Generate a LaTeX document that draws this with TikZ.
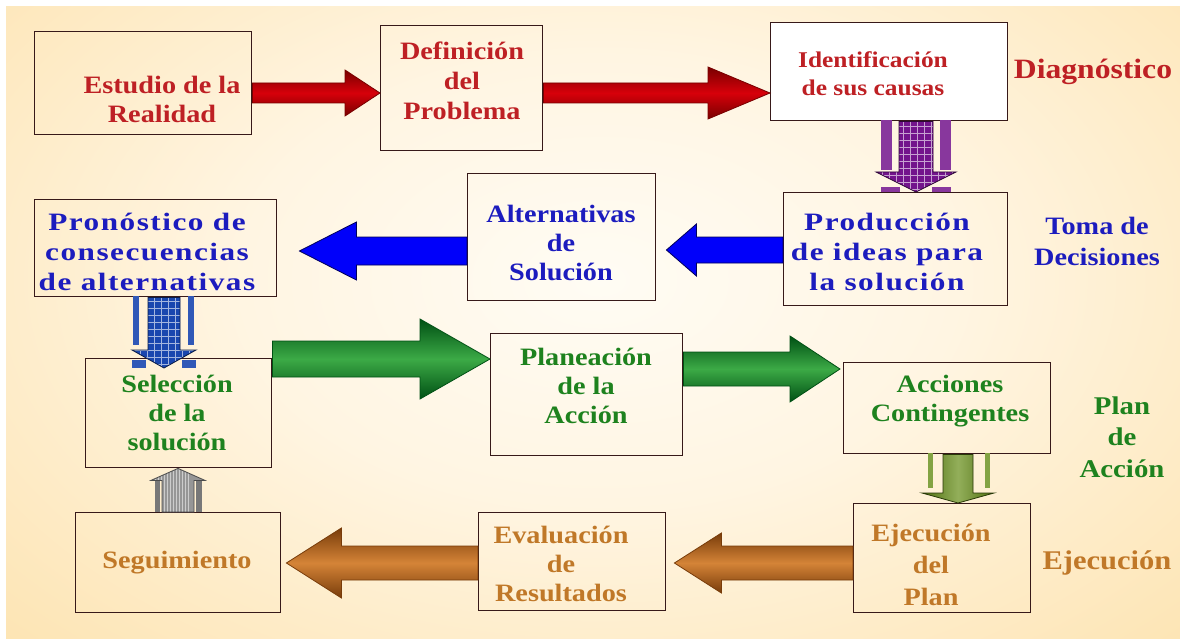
\documentclass[tikz,border=0pt]{standalone}
\usepackage{fontspec}
\setmainfont{Liberation Serif}[FakeStretch=1.13]
\newfontfamily\spacedfont{Liberation Serif}[FakeStretch=1.25,LetterSpace=6]
\usetikzlibrary{calc}
\definecolor{boxline}{RGB}{55,25,25}
\definecolor{tred}{RGB}{190,32,36}
\definecolor{tblue}{RGB}{28,28,190}
\definecolor{tgreen}{RGB}{30,130,30}
\definecolor{torange}{RGB}{192,120,40}
\definecolor{ared}{RGB}{215,0,10}
\definecolor{aredd}{RGB}{120,0,0}
\definecolor{ablue}{RGB}{0,0,250}
\definecolor{ablued}{RGB}{0,0,90}
\definecolor{agreen}{RGB}{10,140,40}
\definecolor{agreend}{RGB}{0,80,20}
\definecolor{agreenl}{RGB}{60,170,70}
\definecolor{aorange}{RGB}{205,110,20}
\definecolor{aoranged}{RGB}{120,60,10}
\definecolor{apurple}{RGB}{115,20,140}
\definecolor{avblue}{RGB}{25,70,175}
\definecolor{aolive}{RGB}{100,140,20}
\definecolor{agray}{RGB}{150,150,150}
\definecolor{bgc}{RGB}{255,252,244}
\definecolor{bgm1}{RGB}{255,245,226}
\definecolor{bgm2}{RGB}{253,228,178}
\definecolor{bge}{RGB}{251,208,120}
\pgfdeclareradialshading{bgshade}{\pgfpoint{0bp}{0bp}}{color(0bp)=(bgc); color(14bp)=(bgm1); color(33bp)=(bgm2); color(50bp)=(bge)}
% horizontal block arrow: style, start, tip, y, shaft half, head half, signed head length
\newcommand\harrow[7]{%
  \path[#1] ($(#2 |- 0,#4)+(0,{-(#5)})$) -- ($(#3 |- 0,#4)+({-(#7)},{-(#5)})$)
    -- ($(#3 |- 0,#4)+({-(#7)},{-(#6)})$) -- (#3 |- 0,#4)
    -- ($(#3 |- 0,#4)+({-(#7)},{#6})$) -- ($(#3 |- 0,#4)+({-(#7)},{#5})$)
    -- ($(#2 |- 0,#4)+(0,{#5})$) -- cycle;}
% vertical block arrow: style, start, tip, x, shaft half, head half, signed head length (down positive)
\newcommand\varrow[7]{%
  \path[#1] ($(#2 -| #4,0)+({-(#5)},0)$) -- ($(#3 -| #4,0)+({-(#5)},{-(#7)})$)
    -- ($(#3 -| #4,0)+({-(#6)},{-(#7)})$) -- (#3 -| #4,0)
    -- ($(#3 -| #4,0)+({#6},{-(#7)})$) -- ($(#3 -| #4,0)+({#5},{-(#7)})$)
    -- ($(#2 -| #4,0)+({#5},0)$) -- cycle;}
\tikzset{
  box/.style={draw=boxline, line width=1.4pt, anchor=north west, inner sep=0pt},
  txt/.style={font=\bfseries\fontsize{25}{29}\selectfont, align=center, inner sep=0pt},
  redarr/.style={draw=aredd, line width=0.8pt, top color=aredd, bottom color=aredd, middle color=ared},
  bluearr/.style={draw=ablued, line width=0.8pt, fill=ablue},
  greenarr/.style={draw=agreend, line width=0.8pt, top color=agreend, bottom color=agreend, middle color=agreenl},
  orangearr/.style={draw=aoranged, line width=0.8pt, top color=aoranged, bottom color=aoranged, middle color=aorange!85!white},
  gridfill/.style={path picture={\draw[white!60!#1, line width=0.5pt, step=7pt] (path picture bounding box.south west) grid (path picture bounding box.north east);}},
  vpurple/.style={draw=apurple!40!black, line width=0.8pt, fill=apurple, gridfill=apurple},
  vblue/.style={draw=avblue!40!black, line width=0.8pt, fill=avblue, gridfill=avblue},
  volive/.style={draw=aolive!40!black, line width=0.8pt, left color=aolive!80!black, right color=aolive!80!black, middle color=aolive!70!white},
  vgray/.style={draw=black!70, line width=0.8pt, fill=agray, path picture={\foreach \k in {0,...,12} {\draw[white!80!black, line width=1pt] ([xshift=\k*3pt+1pt]path picture bounding box.south west) -- ([xshift=\k*3pt+1pt]path picture bounding box.south west |- path picture bounding box.north);}}},
}
\begin{document}
\begin{tikzpicture}[x=1pt, y=-1pt]
\useasboundingbox (0,0) rectangle (1180,639);
\fill[white] (0,0) rectangle (1180,639);
\begin{scope}
  \clip (6,7) rectangle (1180,639);
  \shade[shading=bgshade] (-40,-120) rectangle (1240,680);
\end{scope}

% boxes
\node[box, minimum width=217pt, minimum height=103pt] (A) at (34,31) {};
\node[box, minimum width=162pt, minimum height=125pt] (B) at (380,25) {};
\node[box, fill=white, minimum width=237pt, minimum height=98pt] (C) at (770,22) {};
\node[box, minimum width=224pt, minimum height=113pt] (D) at (783,192) {};
\node[box, minimum width=188pt, minimum height=127pt] (E) at (467,173) {};
\node[box, minimum width=242pt, minimum height=97pt] (F) at (34,199) {};
\node[box, minimum width=186pt, minimum height=109pt] (G) at (85,358) {};
\node[box, minimum width=192pt, minimum height=122pt] (H) at (490,333) {};
\node[box, minimum width=207pt, minimum height=91pt] (I) at (843,362) {};
\node[box, minimum width=177pt, minimum height=109pt] (J) at (853,503) {};
\node[box, minimum width=187pt, minimum height=98pt] (K) at (478,512) {};
\node[box, minimum width=205pt, minimum height=100pt] (L) at (75,512) {};

% tip coordinates
\coordinate (tE) at ($(E.east)+(10,0)$);
\coordinate (tF) at ($(F.east)+(22,0)$);
\coordinate (tG) at ($(G.north)+(0,10)$);
\coordinate (tL) at ($(L.east)+(5,0)$);
\coordinate (tK) at ($(K.east)+(8,0)$);
\coordinate (tI) at ($(I.west)+(-3,0)$);

% vertical arrows (decorative side stripes first)
\fill[apurple!85!white] (881,120) rectangle (892,170);
\fill[apurple!85!white] (940,120) rectangle (951,170);
\fill[apurple!85!white] (881,187) rectangle (900,192);
\fill[apurple!85!white] (932,187) rectangle (951,192);
\varrow{vpurple}{C.south}{D.north}{916}{17}{40}{20}

\fill[avblue!90!white] (133,296) rectangle (139,345);
\fill[avblue!90!white] (188,296) rectangle (194,345);
\fill[avblue!90!white] (132,360) rectangle (146,368);
\fill[avblue!90!white] (182,360) rectangle (196,368);
\varrow{vblue}{F.south}{tG}{164}{16}{32}{18}

\fill[aolive!80!white] (928,453) rectangle (933,488);
\fill[aolive!80!white] (985,453) rectangle (990,488);
\varrow{volive}{I.south}{J.north}{958}{15}{36}{10}

\fill[agray!80!black] (155,481) rectangle (160,512);
\fill[agray!80!black] (196,481) rectangle (202,512);
\varrow{vgray}{L.north}{G.south}{178}{16}{27}{-12}

% horizontal arrows
\harrow{redarr}{A.east}{B.west}{93}{10}{23}{35}
\harrow{redarr}{B.east}{C.west}{93}{10}{26}{62}
\harrow{bluearr}{D.west}{tE}{250}{13}{26}{-30}
\harrow{bluearr}{E.west}{tF}{251}{14}{29}{-57}
\harrow{greenarr}{G.east}{H.west}{359}{18}{40}{70}
\harrow{greenarr}{H.east}{tI}{369}{17}{33}{50}
\harrow{orangearr}{K.west}{tL}{563}{17}{35}{-55}
\harrow{orangearr}{J.west}{tK}{563}{17}{30}{-47}

% texts
\node[txt, text=tred] (tA) at (162,99) {Estudio de la\\Realidad};
\node[txt, text=tred] (tB) at (462,81) {Definición\\[1pt]del\\[1pt]Problema};
\node[txt, text=tred, font=\bfseries\fontsize{22.5}{28}\selectfont] (tC) at (873,74) {Identificación\\de sus causas};
\node[txt, text=tred, font=\bfseries\fontsize{28}{30}\selectfont] (lDiag) at (1093,72) {Diagnóstico};

\node[txt, text=tblue, font=\bfseries\spacedfont\fontsize{25}{30}\selectfont] (tD) at (887,252) {Producción\\de ideas para\\la solución};
\node[txt, text=tblue] (tE2) at (561,243) {Alternativas\\de\\Solución};
\node[txt, text=tblue, font=\bfseries\spacedfont\fontsize{25}{30}\selectfont] (tF2) at (147,252) {Pronóstico de\\consecuencias\\de alternativas};
\node[txt, text=tblue, font=\bfseries\fontsize{25}{31}\selectfont] (lToma) at (1097,241) {Toma de\\Decisiones};

\node[txt, text=tgreen] (tG2) at (177,413) {Selección\\de la\\solución};
\node[txt, text=tgreen] (tH) at (586,386) {Planeación\\de la\\Acción};
\node[txt, text=tgreen] (tI2) at (950,401) {Acciones\\Contingentes};
\node[txt, text=tgreen, font=\bfseries\fontsize{25.5}{31.5}\selectfont] (lPlan) at (1122,437) {Plan\\de\\Acción};

\node[txt, text=torange, font=\bfseries\fontsize{25}{32}\selectfont] (tJ) at (931,565) {Ejecución\\del\\Plan};
\node[txt, text=torange] (tK2) at (561,564) {Evaluación\\de\\Resultados};
\node[txt, text=torange] (tL2) at (177,563) {Seguimiento};
\node[txt, text=torange, font=\bfseries\fontsize{27}{30}\selectfont] (lEjec) at (1107,563) {Ejecución};
\end{tikzpicture}
\end{document}
